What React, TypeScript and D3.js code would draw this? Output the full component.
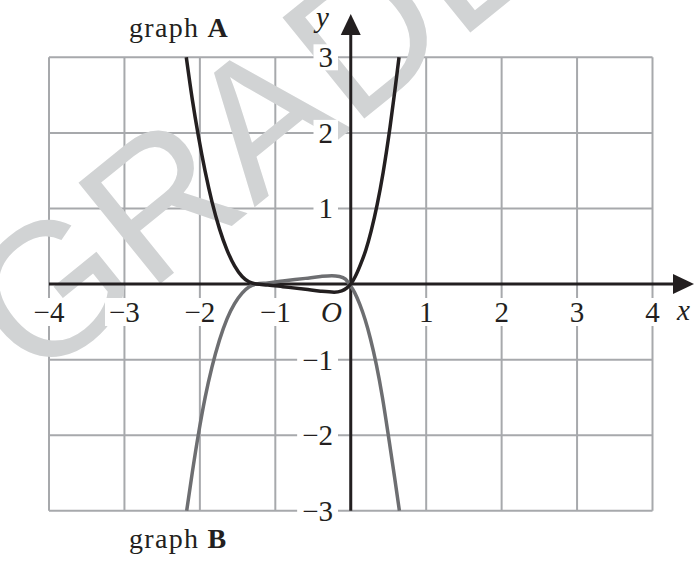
import React, { useEffect, useRef } from 'react';
import * as d3 from 'd3';

// axis ranges and tick labels
const xDomain = [-4, 4];
const yDomain = [-3, 3];
const xTicks = [-4, -3, -2, -1, 1, 2, 3, 4];
const yTicks = [-3, -2, -1, 1, 2, 3];

// graph A (black)
const graphAx = [-2.18, -2.1, -2.02, -1.93, -1.84, -1.74, -1.64, -1.54, -1.44, -1.35, -1.25, -1.1, -0.9, -0.6, -0.4, -0.22, -0.12, -0.05, 0, 0.06, 0.13, 0.2, 0.27, 0.35, 0.43, 0.52, 0.585, 0.64];
const graphAy = [3, 2.44, 1.96, 1.49, 1.09, 0.73, 0.45, 0.24, 0.1, 0.03, 0, -0.012, -0.035, -0.07, -0.095, -0.107, -0.09, -0.05, 0, 0.1, 0.26, 0.45, 0.7, 1.05, 1.48, 2.07, 2.56, 3];

// graph B (grey)
const graphBx = [-2.175, -2.1, -2.02, -1.93, -1.84, -1.74, -1.64, -1.54, -1.44, -1.35, -1.25, -1.1, -0.9, -0.6, -0.4, -0.25, -0.15, -0.07, -0.02, 0.05, 0.12, 0.19, 0.26, 0.34, 0.42, 0.51, 0.58, 0.645];
const graphBy = [-3, -2.49, -1.99, -1.5, -1.1, -0.74, -0.46, -0.26, -0.12, -0.04, 0, 0.014, 0.04, 0.075, 0.1, 0.11, 0.1, 0.065, 0, -0.11, -0.27, -0.47, -0.72, -1.07, -1.5, -2.08, -2.55, -3];

const W = 697;
const H = 562;

const fmt = (v: number) => (v < 0 ? '\u2212' + Math.abs(v) : String(v));

export default function App() {
  const ref = useRef<SVGSVGElement>(null);

  useEffect(() => {
    const svg = d3.select(ref.current);
    svg.selectAll('*').remove();

    const x = d3.scaleLinear().domain(xDomain).range([49, 652.5]);
    const y = d3.scaleLinear().domain(yDomain).range([510.8, 57.3]);
    const serif = '"Liberation Serif", "Times New Roman", serif';
    const fs = 29;
    const textW = (s: string) => s.split('').reduce((a, c) => a + (c === '\u2212' ? 0.564 : 0.5) * fs, 0);

    // grid
    const g = svg.append('g');
    g.selectAll('line.gx')
      .data(d3.range(xDomain[0], xDomain[1] + 1))
      .enter()
      .append('line')
      .attr('x1', d => x(d)).attr('x2', d => x(d))
      .attr('y1', y(3)).attr('y2', y(-3))
      .attr('stroke', '#a7a9ac').attr('stroke-width', 2);
    g.selectAll('line.gy')
      .data(d3.range(yDomain[0], yDomain[1] + 1))
      .enter()
      .append('line')
      .attr('y1', d => y(d)).attr('y2', d => y(d))
      .attr('x1', x(-4)).attr('x2', x(4))
      .attr('stroke', '#a7a9ac').attr('stroke-width', 2);

    // watermark
    svg.append('text')
      .attr('transform', 'translate(34,386) rotate(-39)')
      .attr('font-family', '"Liberation Sans", Arial, sans-serif')
      .attr('font-size', 189)
      .attr('fill', '#d1d3d4')
      .text('GRADECRACKER');

    // x tick labels
    const xl = svg.append('g');
    xTicks.forEach(t => {
      const s = fmt(t);
      const w = textW(s);
      xl.append('rect')
        .attr('x', x(t) - w / 2 - 4).attr('y', 298)
        .attr('width', w + 8).attr('height', 28)
        .attr('fill', '#fff');
      xl.append('text')
        .attr('x', x(t)).attr('y', 322)
        .attr('text-anchor', 'middle')
        .attr('font-family', serif).attr('font-size', fs)
        .attr('fill', '#231f20')
        .text(s);
    });

    // y tick labels
    yTicks.forEach(t => {
      const s = fmt(t);
      const w = textW(s);
      xl.append('rect')
        .attr('x', 333 - w - 5).attr('y', y(t) - 13)
        .attr('width', w + 10).attr('height', 26)
        .attr('fill', '#fff');
      xl.append('text')
        .attr('x', 333).attr('y', y(t) + 10)
        .attr('text-anchor', 'end')
        .attr('font-family', serif).attr('font-size', fs)
        .attr('fill', '#231f20')
        .text(s);
    });

    xl.append('text')
      .attr('x', 342).attr('y', 322)
      .attr('text-anchor', 'end')
      .attr('font-family', serif).attr('font-size', fs)
      .attr('font-style', 'italic')
      .attr('fill', '#231f20')
      .text('O');

    // axes
    const ax = svg.append('g').attr('fill', '#231f20');
    ax.append('line')
      .attr('x1', x(-4)).attr('x2', 676)
      .attr('y1', y(0)).attr('y2', y(0))
      .attr('stroke', '#231f20').attr('stroke-width', 3);
    ax.append('path')
      .attr('d', `M673,${y(0) - 10}L694,${y(0)}L673,${y(0) + 10}Z`);
    ax.append('line')
      .attr('x1', x(0)).attr('x2', x(0))
      .attr('y1', y(-3)).attr('y2', 32)
      .attr('stroke', '#231f20').attr('stroke-width', 3);
    ax.append('path')
      .attr('d', `M${x(0) - 10},35L${x(0)},14L${x(0) + 10},35Z`);

    ax.append('text')
      .attr('x', 677).attr('y', 320)
      .attr('font-family', serif).attr('font-size', fs)
      .attr('font-style', 'italic')
      .text('x');
    ax.append('text')
      .attr('x', 316).attr('y', 27)
      .attr('font-family', serif).attr('font-size', fs)
      .attr('font-style', 'italic')
      .text('y');

    // curves
    const line = d3.line<[number, number]>()
      .x(d => x(d[0]))
      .y(d => y(d[1]))
      .curve(d3.curveMonotoneX);

    svg.append('path')
      .attr('d', line(graphBx.map((v, i) => [v, graphBy[i]] as [number, number])))
      .attr('fill', 'none').attr('stroke', '#6d6e71').attr('stroke-width', 3.5);
    svg.append('path')
      .attr('d', line(graphAx.map((v, i) => [v, graphAy[i]] as [number, number])))
      .attr('fill', 'none').attr('stroke', '#231f20').attr('stroke-width', 3.5);

    // graph names
    const nameA = svg.append('text')
      .attr('x', 129).attr('y', 37)
      .attr('font-family', serif).attr('font-size', 28)
      .attr('letter-spacing', 1.3)
      .attr('fill', '#231f20');
    nameA.append('tspan').text('graph ');
    nameA.append('tspan').attr('font-weight', 'bold').text('A');

    const nameB = svg.append('text')
      .attr('x', 129).attr('y', 548)
      .attr('font-family', serif).attr('font-size', 28)
      .attr('letter-spacing', 1.3)
      .attr('fill', '#231f20');
    nameB.append('tspan').text('graph ');
    nameB.append('tspan').attr('font-weight', 'bold').text('B');
  }, []);

  return (
    <svg
      ref={ref}
      width={W}
      height={H}
      viewBox={`0 0 ${W} ${H}`}
      style={{ position: 'absolute', left: 0, top: 0, background: '#fff' }}
    />
  );
}
